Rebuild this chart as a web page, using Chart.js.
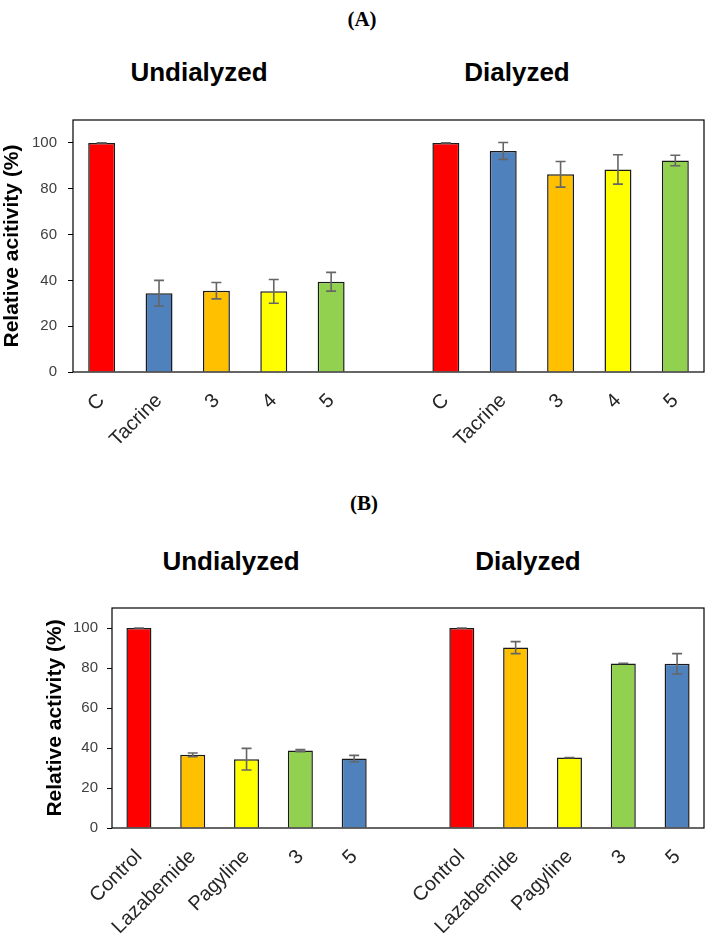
<!DOCTYPE html>
<html>
<head>
<meta charset="utf-8">
<script src="https://cdn.jsdelivr.net/npm/chart.js@4.4.1/dist/chart.umd.min.js"></script>
<style>
  html, body { margin: 0; padding: 0; background: #fff; }
  body { width: 709px; height: 938px; position: relative; overflow: hidden; }
  canvas { position: absolute; left: 0; }
  .lbl { position: absolute; transform: translate(-50%, -50%); white-space: nowrap; line-height: 1; color: #000; }
  .panel { font-family: "Liberation Serif", "Times New Roman", serif; font-weight: bold; font-size: 21px; }
  .group { font-family: "Liberation Sans", Arial, sans-serif; font-weight: bold; font-size: 26px; }
</style>
</head>
<body>
<div class="lbl panel" style="left:362px; top:19px;">(A)</div>
<div class="lbl group" style="left:199px; top:72px;">Undialyzed</div>
<div class="lbl group" style="left:517px; top:72px;">Dialyzed</div>
<canvas id="chartA" width="709" height="390" style="top:100px;"></canvas>

<div class="lbl panel" style="left:364px; top:503px;">(B)</div>
<div class="lbl group" style="left:231px; top:561px;">Undialyzed</div>
<div class="lbl group" style="left:528px; top:561px;">Dialyzed</div>
<canvas id="chartB" width="709" height="348" style="top:590px;"></canvas>

<script>
// panel A
const labelsA = ['C', 'Tacrine', '3', '4', '5', '', 'C', 'Tacrine', '3', '4', '5'];
const valuesA = [100, 34.4, 35.5, 35.2, 39.4, null, 100, 96.5, 86.3, 88.4, 92.3];
const errorsA = [0, 5.6, 3.6, 5.2, 4.1, null, 0, 3.7, 5.6, 6.4, 2.3];
const colorsA = ['#FF0000', '#4F81BD', '#FFC000', '#FFFF00', '#92D050', '#fff',
                 '#FF0000', '#4F81BD', '#FFC000', '#FFFF00', '#92D050'];

// panel B
const labelsB = ['Control', 'Lazabemide', 'Pagyline', '3', '5', '', 'Control', 'Lazabemide', 'Pagyline', '3', '5'];
const valuesB = [100, 36.6, 34.4, 38.7, 34.7, null, 100, 90.2, 35.2, 82.3, 82.1];
const errorsB = [0, 0.9, 5.4, 0.5, 1.6, null, 0, 3.0, 0, 0, 5.1];
const colorsB = ['#FF0000', '#FFC000', '#FFFF00', '#92D050', '#4F81BD', '#fff',
                 '#FF0000', '#FFC000', '#FFFF00', '#92D050', '#4F81BD'];

const yTicks = [0, 20, 40, 60, 80, 100];

// frame round the plot area
const frame = {
  id: 'frame',
  afterDatasetsDraw(chart) {
    const { ctx, chartArea: a } = chart;
    ctx.save();
    ctx.strokeStyle = '#000';
    ctx.lineWidth = 1.2;
    ctx.strokeRect(a.left, a.top, a.right - a.left, a.bottom - a.top);
    ctx.restore();
  }
};

// error bars from the errors array on the dataset
const errorBars = {
  id: 'errorBars',
  afterDatasetsDraw(chart) {
    const { ctx, scales: { x, y } } = chart;
    const ds = chart.data.datasets[0];
    ctx.save();
    ctx.strokeStyle = '#666';
    ctx.lineWidth = 1.6;
    ds.data.forEach((v, i) => {
      if (v == null) return;
      const cx = x.getPixelForValue(i);
      const t = y.getPixelForValue(v + ds.errors[i]);
      const b = y.getPixelForValue(v - ds.errors[i]);
      ctx.beginPath();
      ctx.moveTo(cx, t); ctx.lineTo(cx, b);
      ctx.moveTo(cx - 5, t); ctx.lineTo(cx + 5, t);
      ctx.moveTo(cx - 5, b); ctx.lineTo(cx + 5, b);
      ctx.stroke();
    });
    ctx.restore();
  }
};

function makeChart(id, labels, values, errors, colors, opt) {
  return new Chart(document.getElementById(id), {
    type: 'bar',
    data: {
      labels: labels,
      datasets: [{
        data: values,
        errors: errors,
        backgroundColor: colors,
        borderColor: '#1a1a1a',
        borderWidth: 1.5,
        barPercentage: opt.bar,
        categoryPercentage: 1
      }]
    },
    options: {
      responsive: false,
      animation: false,
      layout: { padding: opt.pad },
      plugins: { legend: { display: false }, tooltip: { enabled: false } },
      scales: {
        x: {
          grid: { display: false },
          border: { display: false },
          afterFit: s => { s.height = opt.xh; },
          ticks: {
            autoSkip: false, minRotation: 45, maxRotation: 45, padding: opt.xpad,
            color: '#262626',
            font: { family: '"Liberation Sans", Arial, sans-serif', size: opt.xfont }
          }
        },
        y: {
          min: 0, max: 110,
          afterFit: s => { s.width = opt.yw; },
          afterBuildTicks: s => { s.ticks = yTicks.map(v => ({ value: v })); },
          grid: { drawOnChartArea: false, drawTicks: true, tickLength: 5, tickColor: '#000' },
          border: { display: false },
          ticks: {
            padding: opt.ypad, color: '#404040',
            font: { family: '"Liberation Sans", Arial, sans-serif', size: 15 }
          },
          title: {
            display: true, text: opt.ytitle, color: '#000', padding: { top: 0, bottom: 0 },
            font: { family: '"Liberation Sans", Arial, sans-serif', size: 21, weight: 'bold' }
          }
        }
      }
    },
    plugins: [frame, errorBars]
  });
}

makeChart('chartA', labelsA, valuesA, errorsA, colorsA, {
  bar: 0.47, pad: { top: 10, right: 5, left: 0, bottom: 0 }, xh: 118, yw: 73,
  xpad: 9, xfont: 20, ypad: 11, ytitle: 'Relative acitivity (%)'
});
makeChart('chartB', labelsB, valuesB, errorsB, colorsB, {
  bar: 0.465, pad: { top: 12, right: 5, left: 43, bottom: 0 }, xh: 110, yw: 69,
  xpad: 9, xfont: 20, ypad: 9, ytitle: 'Relative activity (%)'
});
</script>
</body>
</html>
